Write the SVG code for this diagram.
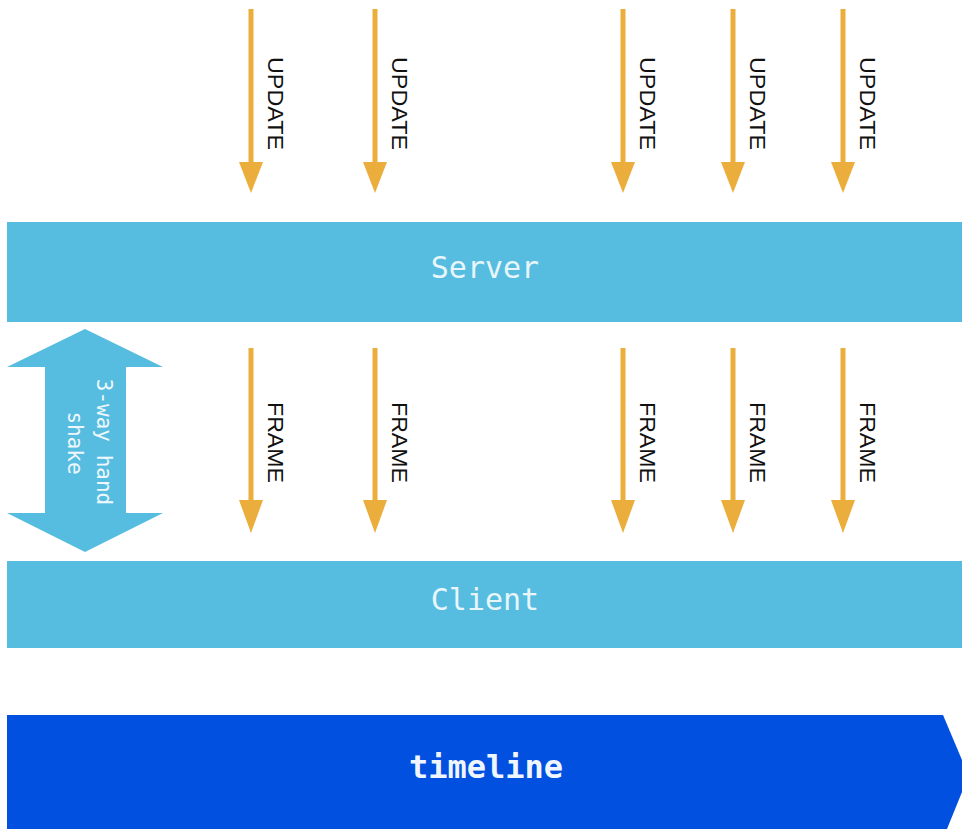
<svg xmlns="http://www.w3.org/2000/svg" width="962" height="829" viewBox="0 0 962 829">
<defs>
<style>
.bar{fill:#56BDE0}
.arrow line{stroke:#EBAD3B;stroke-width:5}
.arrow polygon{fill:#EBAD3B}
.lbl{font-family:"Liberation Sans",Arial,sans-serif;font-size:22px;fill:#111;text-anchor:middle}
.mono{font-family:"DejaVu Sans Mono","Liberation Mono",monospace;text-anchor:middle}
</style>
</defs>
<rect width="962" height="829" fill="#fff"/>
<g id="server"><rect class="bar" x="7" y="222" width="960" height="100"/><text class="mono" x="485" y="278" font-size="30" fill="#E8F6FB">Server</text></g>
<g id="client"><rect class="bar" x="7" y="561" width="960" height="87"/><text class="mono" x="485" y="610" font-size="30" fill="#E8F6FB">Client</text></g>
<g id="timeline"><polygon points="7,715 943,715 962,760 962,792 947,829 7,829" fill="#0150E0"/><text class="mono" x="486" y="778" font-size="32" font-weight="bold" fill="#F0F6FF">timeline</text></g>
<g id="handshake"><polygon points="85,329 163,367 126,367 126,513 163,513 85,552 7,513 45,513 45,367 7,367" fill="#56BDE0"/>
<text class="mono" font-size="21" fill="#EEF8FC" transform="translate(97,442) rotate(90)">3-way hand</text>
<text class="mono" font-size="21" fill="#EEF8FC" transform="translate(68,443) rotate(90)">shake</text></g>
<g id="connectors">
<g class="arrow"><line x1="251" y1="9" x2="251" y2="164"/><polygon points="239,162 263,162 251,193"/></g>
<g class="arrow"><line x1="375" y1="9" x2="375" y2="164"/><polygon points="363,162 387,162 375,193"/></g>
<g class="arrow"><line x1="623" y1="9" x2="623" y2="164"/><polygon points="611,162 635,162 623,193"/></g>
<g class="arrow"><line x1="733" y1="9" x2="733" y2="164"/><polygon points="721,162 745,162 733,193"/></g>
<g class="arrow"><line x1="843" y1="9" x2="843" y2="164"/><polygon points="831,162 855,162 843,193"/></g>
<g class="arrow"><line x1="251" y1="348" x2="251" y2="502"/><polygon points="239,500 263,500 251,533"/></g>
<g class="arrow"><line x1="375" y1="348" x2="375" y2="502"/><polygon points="363,500 387,500 375,533"/></g>
<g class="arrow"><line x1="623" y1="348" x2="623" y2="502"/><polygon points="611,500 635,500 623,533"/></g>
<g class="arrow"><line x1="733" y1="348" x2="733" y2="502"/><polygon points="721,500 745,500 733,533"/></g>
<g class="arrow"><line x1="843" y1="348" x2="843" y2="502"/><polygon points="831,500 855,500 843,533"/></g>
<text class="lbl" transform="translate(268,103.5) rotate(90)" textLength="93" lengthAdjust="spacingAndGlyphs">UPDATE</text>
<text class="lbl" transform="translate(392,103.5) rotate(90)" textLength="93" lengthAdjust="spacingAndGlyphs">UPDATE</text>
<text class="lbl" transform="translate(640,103.5) rotate(90)" textLength="93" lengthAdjust="spacingAndGlyphs">UPDATE</text>
<text class="lbl" transform="translate(750,103.5) rotate(90)" textLength="93" lengthAdjust="spacingAndGlyphs">UPDATE</text>
<text class="lbl" transform="translate(860,103.5) rotate(90)" textLength="93" lengthAdjust="spacingAndGlyphs">UPDATE</text>
<text class="lbl" transform="translate(268,442.5) rotate(90)" textLength="81" lengthAdjust="spacingAndGlyphs">FRAME</text>
<text class="lbl" transform="translate(392,442.5) rotate(90)" textLength="81" lengthAdjust="spacingAndGlyphs">FRAME</text>
<text class="lbl" transform="translate(640,442.5) rotate(90)" textLength="81" lengthAdjust="spacingAndGlyphs">FRAME</text>
<text class="lbl" transform="translate(750,442.5) rotate(90)" textLength="81" lengthAdjust="spacingAndGlyphs">FRAME</text>
<text class="lbl" transform="translate(860,442.5) rotate(90)" textLength="81" lengthAdjust="spacingAndGlyphs">FRAME</text>
</g>
</svg>
